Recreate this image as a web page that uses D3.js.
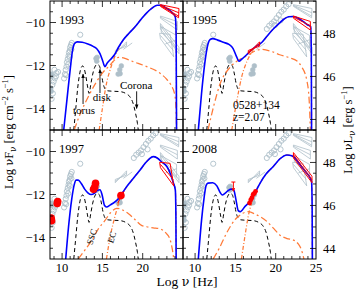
<!DOCTYPE html>
<html>
<head>
<meta charset="utf-8">
<script src="https://cdn.jsdelivr.net/npm/d3@7"></script>
<style>
  body { margin: 0; background: #fff; }
  .nu { font-family: 'DejaVu Serif', serif; }
</style>
</head>
<body>
<div id="chart"></div>
<script>
// --- axes ---
const xDomain = [8.5, 25];
const yDomain = [-15, -9];
const lumOffset = 58.51;            // log nuL_nu - log nuF_nu
const xTickLabels = [10, 15, 20, 25];
const yTickLabels = [-10, -12, -14];
const lTickLabels = [44, 46, 48];
const years = ["1993", "1995", "1997", "2008"];

// --- total model (blue) ---
const blue1993 = [[10.2,-15],[10.6,-13.6],[11.0,-12.2],[11.3,-11.3],[11.55,-10.98],[11.9,-10.9],[12.5,-10.92],[13.2,-11.0],[13.9,-11.12],[14.3,-11.22],[14.7,-11.45],[15.05,-11.8],[15.3,-12.05],[15.6,-11.88],[16.0,-11.72],[16.5,-11.5],[17.0,-11.15],[17.6,-10.8],[18.3,-10.5],[19.0,-10.22],[19.8,-9.85],[20.5,-9.55],[21.2,-9.32],[21.8,-9.2],[22.3,-9.2],[22.8,-9.3],[23.4,-9.45],[23.8,-9.6],[24.05,-9.75],[24.15,-10.6],[24.2,-15]];
const blue1995 = [[10.4,-15],[10.8,-13.3],[11.2,-11.9],[11.6,-11.0],[11.9,-10.78],[12.2,-10.75],[12.8,-10.82],[13.5,-10.92],[14.2,-11.02],[14.7,-11.2],[15.1,-11.55],[15.45,-11.8],[15.8,-11.7],[16.4,-11.5],[17.0,-11.28],[17.6,-11.1],[18.3,-10.92],[19.0,-10.6],[19.7,-10.3],[20.4,-10.05],[21.0,-9.85],[21.6,-9.73],[22.2,-9.72],[22.8,-9.8],[23.4,-9.95],[23.9,-10.1],[24.35,-10.2],[24.42,-11.5],[24.45,-15]];
const blue1997 = [[10.45,-15],[10.8,-13.5],[11.2,-12.2],[11.5,-11.55],[11.75,-11.33],[12.0,-11.33],[12.4,-11.5],[12.8,-11.75],[13.2,-11.92],[13.6,-12.0],[14.0,-11.95],[14.4,-11.8],[14.7,-11.78],[14.95,-12.0],[15.25,-12.5],[15.5,-12.58],[16.0,-12.48],[16.6,-12.33],[17.2,-12.1],[17.8,-11.75],[18.4,-11.45],[19.0,-11.17],[19.7,-10.85],[20.3,-10.55],[20.8,-10.35],[21.3,-10.24],[21.8,-10.3],[22.4,-10.5],[23.0,-10.7],[23.5,-11.1],[23.8,-11.45],[24.05,-11.8],[24.12,-13],[24.15,-15]];
const blue2008 = [[10.4,-15],[10.8,-13.2],[11.1,-12.2],[11.35,-11.6],[11.6,-11.47],[12.2,-11.45],[12.7,-11.6],[13.1,-11.9],[13.35,-12.02],[13.7,-11.95],[14.1,-11.82],[14.5,-11.75],[14.8,-11.8],[15.05,-12.2],[15.35,-12.75],[15.6,-12.8],[16.2,-12.55],[16.8,-12.33],[17.4,-11.95],[18.05,-11.48],[18.8,-11.05],[19.7,-10.7],[20.5,-10.35],[21.4,-10.16],[22.0,-10.2],[22.6,-10.4],[23.2,-10.7],[23.85,-11.0],[24.3,-11.25],[24.45,-11.4],[24.52,-12.5],[24.55,-15]];

// --- thermal components: torus + disk + corona (black dashed) ---
const thermal = [[11.45,-15],[11.7,-14.0],[11.95,-13.0],[12.15,-12.45],[12.35,-12.12],[12.55,-12.02],[12.75,-12.15],[12.95,-12.5],[13.15,-12.95],[13.35,-13.3],[13.55,-12.9],[13.8,-12.4],[14.05,-12.08],[14.35,-11.95],[14.6,-12.0],[14.85,-12.35],[15.1,-12.85],[15.35,-13.1],[15.7,-13.18],[16.5,-13.2],[17.3,-13.22],[17.9,-13.3],[18.4,-13.45],[18.8,-13.75],[19.1,-14.2],[19.35,-14.7],[19.45,-15]];

// --- SSC (orange long dash-dot) ---
const ssc1993 = [[11.5,-15],[12.3,-14.2],[13.25,-13.45],[14.2,-12.8],[15.0,-12.35],[15.9,-12.0],[16.5,-11.75],[17.0,-11.62],[17.6,-11.65],[18.8,-11.82],[20.5,-12.05],[22.15,-12.36],[23.0,-12.65],[23.5,-12.9],[24.0,-13.4],[24.15,-14.2],[24.2,-15]];
const ssc1995 = [[11.6,-15],[12.3,-13.9],[13.1,-12.85],[14.3,-12.1],[15.5,-11.72],[16.4,-11.55],[17.3,-11.35],[18.2,-11.25],[19.5,-11.35],[20.5,-11.5],[21.8,-11.65],[22.6,-11.78],[23.2,-12.05],[23.85,-12.67],[24.15,-13.6],[24.3,-15]];
const ssc1997 = [[12.0,-15],[12.8,-14.6],[13.7,-14.12],[14.5,-13.6],[15.3,-13.22],[16.0,-12.85],[16.8,-12.64],[17.4,-12.7],[18.2,-12.88],[19.0,-13.15],[19.9,-13.45],[20.5,-13.5],[21.3,-13.55],[22.15,-13.6],[22.9,-13.8],[23.4,-14.1],[23.7,-14.6],[23.85,-15]];
const ssc2008 = [[12.25,-15],[13.0,-14.5],[13.9,-13.8],[15.0,-13.15],[15.8,-12.9],[16.6,-12.8],[17.5,-12.92],[18.9,-13.25],[19.8,-13.6],[20.5,-13.88],[21.4,-14.05],[22.2,-14.12],[22.8,-14.3],[23.2,-14.58],[23.5,-15]];

// --- EC rising part (orange dash-dot), then it runs on the total model ---
const ec1993 = [[14.6,-15],[15.0,-14.0],[15.5,-12.85],[16.0,-12.15],[16.5,-11.62],[17.0,-11.2]];
const ec1995 = [[14.55,-15],[15.2,-13.6],[15.8,-12.5],[16.5,-11.75],[17.0,-11.4],[17.5,-11.12]];
const ec1997 = [[15.5,-15],[16.0,-13.9],[16.5,-13.1],[16.9,-12.55],[17.2,-12.1]];
const ec2008 = [[15.75,-15],[16.2,-13.9],[16.6,-13.0],[17.0,-12.4],[17.4,-11.95]];

// --- archival data (gray) ---
const grayOpen = [[8.8,-12.9],[8.95,-12.75],[9.1,-12.6],[9.25,-12.5],[9.3,-12.35],[9.5,-12.3],[9.05,-12.2],[8.85,-13.3],[8.7,-13.55],
  [10.25,-12.6],[10.35,-12.4],[10.45,-12.2],[10.55,-12.05],[10.6,-11.85],[10.7,-11.7],[10.8,-11.55],[10.85,-11.4],[10.95,-11.3],[11.0,-11.15],[11.1,-11.05],[11.2,-10.95],[10.95,-11.6],[10.75,-11.95],[10.5,-12.45],[11.15,-11.25],[12.25,-10.57]];
const grayFilled = [[8.65,-12.4],[8.7,-12.5],[8.6,-13.05],[8.65,-13.2],
  [14.2,-11.68],[14.35,-11.62],[14.3,-11.8],
  [16.95,-12.4],[17.15,-12.2],[17.35,-12.02],[17.2,-12.38]];
const hardXOpen = [[18.9,-10.3],[19.2,-10.15],[19.5,-10.05],[19.8,-9.95],[20.1,-9.8],[20.4,-9.65],[20.7,-9.5],[21.0,-9.4],[21.3,-9.25],[21.6,-9.15],[19.9,-10.12],[20.6,-9.9]];

// gamma-ray bowties of each epoch; gray where not the panel's own epoch
const gamma1993 = [[[22.2,-9.17],[24.5,-9.35],[24.45,-9.78],[22.2,-9.25],[22.2,-9.17]],[[22.2,-9.2],[24.5,-9.55]],[[22.2,-9.22],[24.45,-9.7]]];
const gamma1995 = [[[22.2,-9.7],[24.3,-9.95],[24.3,-10.35],[22.2,-9.8],[22.2,-9.7]],[[22.2,-9.75],[24.3,-10.15]]];
const gamma1997 = [[[22.1,-10.5],[23.4,-10.55],[23.85,-11.6],[22.2,-10.75],[22.1,-10.5]],[[22.2,-10.6],[23.8,-11.3]]];
const gamma2008 = [[[22.2,-10.05],[24.5,-11.15],[24.5,-11.45],[22.2,-10.3],[22.2,-10.05]],[[22.2,-10.15],[24.5,-11.32]]];
const gammaOther = [[[22.3,-10.2],[24.2,-10.6],[24.2,-11.2],[22.3,-10.45],[22.3,-10.2]],[[22.8,-11.0],[24.2,-10.8]]];
const xray1995 = [[[16.6,-11.45],[18.0,-10.9],[18.0,-11.1],[16.6,-11.3],[16.6,-11.45]],[[16.6,-11.38],[18.0,-11.0]]];
const grayXray = [[[17.6,-11.25],[18.7,-10.95]]];

// --- epoch data (red) ---
const redDots1997 = [[8.65,-13.1],[8.7,-13.22],[9.45,-12.33],[9.4,-12.42],[13.9,-11.76],[14.05,-11.65],[14.15,-11.48],[17.3,-12.05]];
const redLines1997 = [[[16.9,-12.4],[17.7,-11.85]]];
const redDots2008 = [[16.75,-12.4],[16.9,-12.25],[17.05,-12.15],[17.2,-12.0],[17.35,-11.95],[17.5,-11.85]];
const redLines2008 = [[[16.7,-12.45],[17.6,-11.8]],[[14.5,-11.42],[15.0,-11.42]],[[14.75,-11.42],[14.75,-11.8]],[[14.6,-11.7],[14.75,-11.85],[14.9,-11.7]]];

const gammaShapes = [gamma1993, gamma1995, gamma1997, gamma2008];

const panels = [
  { blue: blue1993, ssc: ssc1993, ec: ec1993, redDots: [], redLines: [] },
  { blue: blue1995, ssc: ssc1995, ec: ec1995, redDots: [], redLines: xray1995 },
  { blue: blue1997, ssc: ssc1997, ec: ec1997, redDots: redDots1997, redLines: redLines1997 },
  { blue: blue2008, ssc: ssc2008, ec: ec2008, redDots: redDots2008, redLines: redLines2008 }
];

// --- layout ---
const width = 360, height = 289;
const left0 = 50, top0 = 1;
const panelW = 133, panelH = 129;
const grayCol = "#aebfc9", orange = "#ff7a38";

const svg = d3.select("#chart").append("svg")
  .attr("width", width).attr("height", height)
  .style("font-family", "'Liberation Serif', 'DejaVu Serif', serif");

const x = d3.scaleLinear().domain(xDomain).range([0, panelW]);
const y = d3.scaleLinear().domain(yDomain).range([panelH, 0]);
const yL = d3.scaleLinear().domain([yDomain[0] + lumOffset, yDomain[1] + lumOffset]).range([panelH, 0]);

const line = d3.line().x(d => x(d[0])).y(d => y(d[1])).curve(d3.curveMonotoneX);
const poly = d3.line().x(d => x(d[0])).y(d => y(d[1]));

const defs = svg.append("defs");
defs.append("marker").attr("id", "arr").attr("viewBox", "0 0 10 10")
  .attr("refX", 9).attr("refY", 5).attr("markerWidth", 5).attr("markerHeight", 5)
  .attr("orient", "auto")
  .append("path").attr("d", "M0,1L10,5L0,9Z").attr("fill", "#000");

panels.forEach((p, i) => {
  const col = i % 2, row = Math.floor(i / 2);
  const g = svg.append("g")
    .attr("transform", `translate(${left0 + col * panelW},${top0 + row * panelH})`);

  defs.append("clipPath").attr("id", "clip" + i)
    .append("rect").attr("width", panelW).attr("height", panelH);
  const plot = g.append("g").attr("clip-path", `url(#clip${i})`);

  // gray archival
  const grayLines = gammaShapes.filter((s, k) => k !== i).flat()
    .concat(gammaOther)
    .concat(i !== 1 ? xray1995 : [])
    .concat(grayXray);
  plot.selectAll(".gl").data(grayLines).enter().append("path")
    .attr("d", poly).attr("fill", "none").attr("stroke", grayCol).attr("stroke-width", 0.8);

  const circ = grayOpen.concat(i > 0 ? hardXOpen : []);
  plot.selectAll(".go").data(circ).enter().append("circle")
    .attr("cx", d => x(d[0])).attr("cy", d => y(d[1])).attr("r", 2.6)
    .attr("fill", "none").attr("stroke", grayCol).attr("stroke-width", 0.9);
  plot.selectAll(".gf").data(grayFilled).enter().append("circle")
    .attr("cx", d => x(d[0])).attr("cy", d => y(d[1])).attr("r", 2.4)
    .attr("fill", grayCol).attr("stroke", grayCol).attr("stroke-width", 0.6);

  // thermal
  plot.append("path").datum(thermal).attr("d", line)
    .attr("fill", "none").attr("stroke", "#000").attr("stroke-width", 1)
    .attr("stroke-dasharray", "4,3");

  // SSC
  plot.append("path").datum(p.ssc).attr("d", line)
    .attr("fill", "none").attr("stroke", orange).attr("stroke-width", 1.25)
    .attr("stroke-dasharray", "7,3,2,3");

  // EC: rising part then along the total model
  const ecEnd = p.ec[p.ec.length - 1][0];
  const ecFull = p.ec.concat(p.blue.filter(d => d[0] > ecEnd));
  plot.append("path").datum(ecFull).attr("d", line)
    .attr("fill", "none").attr("stroke", orange).attr("stroke-width", 1.25)
    .attr("stroke-dasharray", "4,2,1,2");

  // total
  plot.append("path").datum(p.blue).attr("d", line)
    .attr("fill", "none").attr("stroke", "#0000ff").attr("stroke-width", 1.6);

  // red epoch data
  plot.selectAll(".rg").data(gammaShapes[i].concat(p.redLines)).enter().append("path")
    .attr("d", poly).attr("fill", "none").attr("stroke", "#ff0000").attr("stroke-width", 1);
  plot.selectAll(".rd").data(p.redDots).enter().append("circle")
    .attr("cx", d => x(d[0])).attr("cy", d => y(d[1]))
    .attr("r", i === 2 ? 3.8 : 2.4).attr("fill", "#ff0000");

  // frame
  g.append("rect").attr("width", panelW).attr("height", panelH)
    .attr("fill", "none").attr("stroke", "#000").attr("stroke-width", 1);

  // ticks
  const tk = g.append("g").attr("stroke", "#000").attr("stroke-width", 0.8);
  d3.range(9, 25, 1).forEach(v => {
    const L = v % 5 === 0 ? 6 : 3;
    tk.append("line").attr("x1", x(v)).attr("x2", x(v)).attr("y1", panelH).attr("y2", panelH - L);
    tk.append("line").attr("x1", x(v)).attr("x2", x(v)).attr("y1", 0).attr("y2", L);
  });
  d3.range(-14.5, -9, 0.5).forEach(v => {
    const L = (Number.isInteger(v) && v % 2 === 0) ? 6 : 3;
    tk.append("line").attr("x1", 0).attr("x2", L).attr("y1", y(v)).attr("y2", y(v));
  });
  d3.range(44, 49.51, 0.5).forEach(v => {
    const L = (Number.isInteger(v) && v % 2 === 0) ? 6 : 3;
    tk.append("line").attr("x1", panelW).attr("x2", panelW - L).attr("y1", yL(v)).attr("y2", yL(v));
  });

  // tick labels
  const fs = 12.5;
  if (col === 0) {
    yTickLabels.forEach(v => g.append("text").attr("x", -5).attr("y", y(v)).attr("dy", "0.35em")
      .attr("text-anchor", "end").attr("font-size", fs).text("\u2212" + Math.abs(v)));
  } else {
    lTickLabels.forEach(v => g.append("text").attr("x", panelW + 7).attr("y", yL(v)).attr("dy", "0.35em")
      .attr("font-size", fs).text(v));
  }
  if (row === 1) {
    xTickLabels.filter(v => col === 1 || v < 25).forEach(v => g.append("text")
      .attr("x", x(v)).attr("y", panelH + 13).attr("text-anchor", "middle")
      .attr("font-size", fs).text(v));
  }

  g.append("text").attr("x", 9).attr("y", 23).attr("font-size", 12.5).text(years[i]);

  // annotations
  const ann = (t, lv, lf, size) => g.append("text").attr("x", x(lv)).attr("y", y(lf))
    .attr("font-size", size).text(t);
  const arrow = (lv, lf0, lf1) => g.append("line")
    .attr("x1", x(lv)).attr("x2", x(lv)).attr("y1", y(lf0)).attr("y2", y(lf1))
    .attr("stroke", "#000").attr("stroke-width", 0.9).attr("marker-end", "url(#arr)");
  if (i === 0) {
    ann("torus", 11.35, -14.26, 11);
    ann("disk", 13.8, -13.67, 11);
    ann("Corona", 17.18, -13.09, 11);
    arrow(12.6, -13.79, -12.4);
    arrow(14.7, -13.28, -12.18);
    arrow(19.25, -13.2, -14.0);
  }
  if (i === 1) {
    ann("0528+134", 14.7, -14.02, 11.5);
    ann("z=2.07", 14.7, -14.58, 11.5);
  }
  if (i === 2) {
    [["SSC", 13.67, -13.96], ["EC", 16.15, -13.99]].forEach(a => {
      g.append("text").attr("transform", `translate(${x(a[1])},${y(a[2])}) rotate(-72)`)
        .attr("text-anchor", "middle").attr("dy", "0.35em").attr("font-size", 9).text(a[0]);
    });
  }
});

// axis titles
const tfs = 12.5, sfs = 8.5;
const lt = svg.append("text").attr("transform", `translate(13,132) rotate(-90)`)
  .attr("text-anchor", "middle").attr("font-size", tfs);
lt.append("tspan").text("Log ");
lt.append("tspan").attr("class", "nu").attr("font-size", 11.5).text("\u03bd");
lt.append("tspan").text("F");
lt.append("tspan").attr("class", "nu").attr("dy", 3).attr("font-size", sfs).text("\u03bd");
lt.append("tspan").attr("dy", -3).text(" [erg cm");
lt.append("tspan").attr("dy", -5).attr("font-size", sfs).text("\u22122");
lt.append("tspan").attr("dy", 5).text(" s");
lt.append("tspan").attr("dy", -5).attr("font-size", sfs).text("\u22121");
lt.append("tspan").attr("dy", 5).text("]");

const rt = svg.append("text").attr("transform", `translate(352,130) rotate(-90)`)
  .attr("text-anchor", "middle").attr("font-size", tfs);
rt.append("tspan").text("Log ");
rt.append("tspan").attr("class", "nu").attr("font-size", 11.5).text("\u03bd");
rt.append("tspan").text("L");
rt.append("tspan").attr("class", "nu").attr("dy", 3).attr("font-size", sfs).text("\u03bd");
rt.append("tspan").attr("dy", -3).text(" [erg s");
rt.append("tspan").attr("dy", -5).attr("font-size", sfs).text("\u22121");
rt.append("tspan").attr("dy", 5).text("]");

const bt = svg.append("text").attr("x", left0 + panelW + 4).attr("y", 286).attr("text-anchor", "middle")
  .attr("font-size", 13.5);
bt.append("tspan").text("Log ");
bt.append("tspan").attr("class", "nu").attr("font-size", 12.5).text("\u03bd");
bt.append("tspan").text(" [Hz]");
</script>
</body>
</html>
